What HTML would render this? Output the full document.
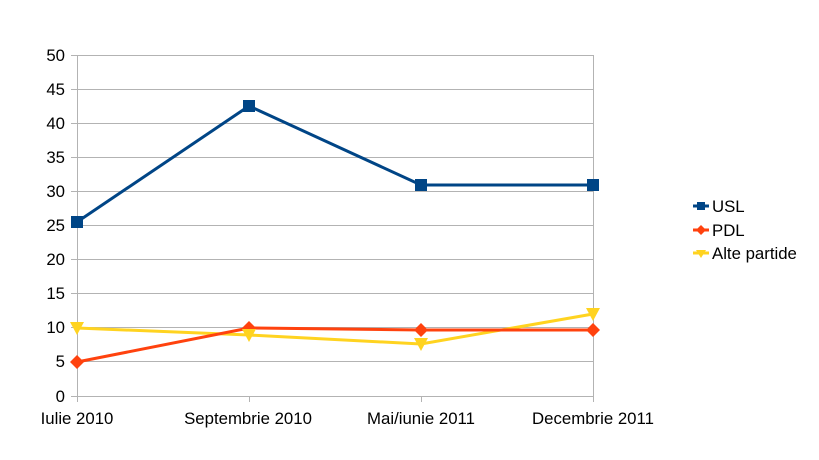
<!DOCTYPE html>
<html><head><meta charset="utf-8"><style>body{margin:0;background:#fff}svg{display:block}text{font-family:"Liberation Sans",Arial,sans-serif;font-size:16.8px;fill:#000}</style></head><body>
<svg width="819" height="460" viewBox="0 0 819 460">
<g stroke="#b3b3b3" stroke-width="1">
<line x1="77" y1="55.5" x2="593" y2="55.5"/><line x1="77" y1="89.5" x2="593" y2="89.5"/><line x1="77" y1="123.5" x2="593" y2="123.5"/><line x1="77" y1="157.5" x2="593" y2="157.5"/><line x1="77" y1="191.5" x2="593" y2="191.5"/><line x1="77" y1="225.5" x2="593" y2="225.5"/><line x1="77" y1="259.5" x2="593" y2="259.5"/><line x1="77" y1="293.5" x2="593" y2="293.5"/><line x1="77" y1="327.5" x2="593" y2="327.5"/><line x1="77" y1="361.5" x2="593" y2="361.5"/><line x1="71" y1="396.5" x2="593" y2="396.5"/>
<line x1="77.5" y1="55" x2="77.5" y2="402"/><line x1="249.5" y1="396" x2="249.5" y2="402"/><line x1="421.5" y1="396" x2="421.5" y2="402"/><line x1="593.5" y1="55" x2="593.5" y2="402"/>
<line x1="71" y1="55.5" x2="77" y2="55.5"/><line x1="71" y1="89.5" x2="77" y2="89.5"/><line x1="71" y1="123.5" x2="77" y2="123.5"/><line x1="71" y1="157.5" x2="77" y2="157.5"/><line x1="71" y1="191.5" x2="77" y2="191.5"/><line x1="71" y1="225.5" x2="77" y2="225.5"/><line x1="71" y1="259.5" x2="77" y2="259.5"/><line x1="71" y1="293.5" x2="77" y2="293.5"/><line x1="71" y1="327.5" x2="77" y2="327.5"/><line x1="71" y1="361.5" x2="77" y2="361.5"/>
</g>
<g text-anchor="end">
<text x="65" y="61">50</text><text x="65" y="95">45</text><text x="65" y="129">40</text><text x="65" y="163">35</text><text x="65" y="197">30</text><text x="65" y="231">25</text><text x="65" y="265">20</text><text x="65" y="299">15</text><text x="65" y="333">10</text><text x="65" y="367">5</text><text x="65" y="402">0</text>
</g>
<g text-anchor="middle">
<text x="77" y="424">Iulie 2010</text><text x="248" y="424">Septembrie 2010</text><text x="421" y="424">Mai/iunie 2011</text><text x="593" y="424">Decembrie 2011</text>
</g>
<polyline points="77,328 249,335 421,344 593,314" fill="none" stroke="#ffd320" stroke-width="3"/>
<polyline points="77,362 249,328 421,330 593,330" fill="none" stroke="#ff420e" stroke-width="3"/>
<polyline points="77,222 249,106 421,185 593,185" fill="none" stroke="#004586" stroke-width="3"/>
<g fill="#004586"><rect x="71" y="216" width="12" height="12"/><rect x="243" y="100" width="12" height="12"/><rect x="415" y="179" width="12" height="12"/><rect x="587" y="179" width="12" height="12"/></g>
<g fill="#ff420e"><polygon points="77,355 84,362 77,369 70,362"/><polygon points="249,321 256,328 249,335 242,328"/><polygon points="421,323 428,330 421,337 414,330"/><polygon points="593,323 600,330 593,337 586,330"/></g>
<g fill="#ffd320"><polygon points="70,322 84,322 77,335"/><polygon points="242,329 256,329 249,342"/><polygon points="414,338 428,338 421,351"/><polygon points="586,308 600,308 593,321"/></g>
<line x1="693" y1="206" x2="709" y2="206" stroke="#004586" stroke-width="3"/><rect x="697" y="202" width="8" height="8" fill="#004586"/>
<line x1="693" y1="230" x2="709" y2="230" stroke="#ff420e" stroke-width="3"/><polygon points="701,225 706,230 701,235 696,230" fill="#ff420e"/>
<line x1="693" y1="253" x2="709" y2="253" stroke="#ffd320" stroke-width="3"/><polygon points="696,250 706,250 701,258" fill="#ffd320"/>
<text x="712" y="212">USL</text><text x="712" y="236">PDL</text><text x="712" y="259">Alte partide</text>
</svg>
</body></html>
